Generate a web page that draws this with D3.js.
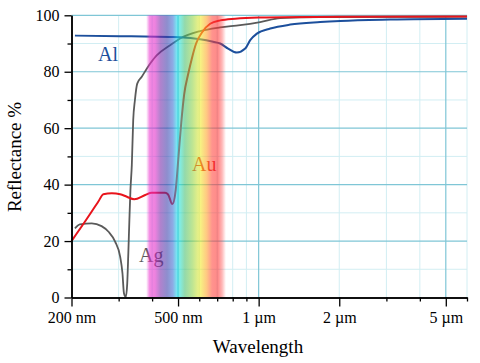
<!DOCTYPE html>
<html>
<head>
<meta charset="utf-8">
<script src="https://cdn.jsdelivr.net/npm/d3@7.9.0/dist/d3.min.js"></script>
<style>
  body { margin: 0; background: #fff; }
  svg { display: block; }
  svg text { font-family: "Liberation Serif", "Times New Roman", serif; }
</style>
</head>
<body>
<svg id="chart" width="480" height="363"></svg>
<script>
// wavelength in nm, reflectance in %
const alWave = [206, 304, 467, 509, 604, 676, 718, 769, 829, 891, 930, 985, 1105, 1312, 1698, 2017, 3102, 6000];
const alRefl = [92.8, 92.6, 92.3, 92.2, 91.5, 90.6, 90.0, 88.2, 86.8, 88.2, 91.2, 93.5, 95.3, 96.7, 97.6, 98.0, 98.5, 98.8];

const auWave = [200, 225, 252, 263, 283, 304, 322, 343, 377, 399, 447, 459, 476, 490, 502, 514, 527, 545, 564, 584, 615, 659, 718, 817, 1000, 2000, 6000];
const auRefl = [20.0, 27.0, 34.0, 36.6, 36.9, 36.6, 35.7, 34.8, 36.3, 37.1, 37.1, 36.5, 33.1, 38.0, 50.0, 62.0, 72.0, 79.0, 85.0, 90.0, 94.0, 97.0, 98.2, 98.8, 99.2, 99.5, 99.6];

const agWave = [206, 215, 238, 259, 275, 291, 304, 310, 314, 319, 323, 326, 329, 332, 336, 340, 345, 352, 366, 382, 416, 467, 509, 604, 718, 853, 1013, 1204, 1698, 6000];
const agRefl = [24.5, 25.9, 26.3, 25.3, 23.3, 19.8, 14.4, 8.6, 1.5, 0.2, 5.0, 15.6, 27.4, 38.0, 47.0, 62.8, 69.9, 75.8, 78.2, 81.1, 85.8, 89.4, 91.8, 94.4, 95.7, 96.5, 97.6, 99.0, 99.4, 99.5];

const xMajor = [200, 500, 1000, 2000, 5000];
const xMinor = [300, 400, 600, 700, 800, 900, 3000, 4000, 6000];
const yMajor = [0, 20, 40, 60, 80, 100];
const yMinor = [10, 30, 50, 70, 90];

const gridDarkX = [500, 1000, 5000];
const gridLightX = [300, 400, 600, 700, 800, 900, 2000, 3000, 4000, 6000];

// visible spectrum band (nm, colour, opacity)
const specWave = [380, 392, 410, 430, 455, 478, 495, 510, 530, 565, 605, 640, 670, 705, 730, 755];
const specColor = ['#e62bcb', '#eb32cd', '#e128c8', '#7828aa', '#3c3caa', '#3c6ed2', '#14d7eb', '#28dcc8', '#46be6e', '#8cd246', '#f0eb28', '#ffa028', '#ff463c', '#ff3232', '#ff3232', '#ff3232'];
const specAlpha = [0, 1, 1, 1, 1, 1, 1, 1, 1, 1, 1, 1, 1, 1, 0.6, 0];

const svg = d3.select('#chart');

const x = d3.scaleLog().domain([200, 6000]).range([71.5, 467]);
const y = d3.scaleLinear().domain([0, 100]).range([297.5, 15.3]);

// grid
const grid = svg.append('g');
grid.selectAll('.gl-x').data(gridLightX).join('line')
  .attr('x1', d => x(d)).attr('x2', d => x(d)).attr('y1', y(0)).attr('y2', y(100))
  .attr('stroke', '#d2eef3').attr('stroke-width', 1);
grid.selectAll('.gl-y').data(yMinor).join('line')
  .attr('x1', x(200)).attr('x2', x(6000)).attr('y1', d => y(d)).attr('y2', d => y(d))
  .attr('stroke', '#d2eef3').attr('stroke-width', 1);
grid.selectAll('.gd-x').data(gridDarkX).join('line')
  .attr('x1', d => x(d)).attr('x2', d => x(d)).attr('y1', y(0)).attr('y2', y(100))
  .attr('stroke', '#7fc6d6').attr('stroke-width', 1.2);
grid.selectAll('.gd-y').data(yMajor.filter(d => d > 0)).join('line')
  .attr('x1', x(200)).attr('x2', x(6000)).attr('y1', d => y(d)).attr('y2', d => y(d))
  .attr('stroke', '#7fc6d6').attr('stroke-width', 1.2);

// curves
const line = d3.line().x(d => x(d[0])).y(d => y(d[1])).curve(d3.curveMonotoneX);
const series = [
  { wave: agWave, refl: agRefl, color: '#5a5a5a', w: 1.8 },
  { wave: alWave, refl: alRefl, color: '#1c4f9c', w: 2 },
  { wave: auWave, refl: auRefl, color: '#e8141c', w: 2 }
];
series.forEach(s => {
  svg.append('path')
    .datum(d3.zip(s.wave, s.refl))
    .attr('d', line)
    .attr('fill', 'none')
    .attr('stroke', s.color)
    .attr('stroke-width', s.w)
    .attr('stroke-linejoin', 'round');
});

// curve labels
svg.append('text').attr('x', 98).attr('y', 61).attr('font-size', 20).attr('fill', '#1c4f9c').text('Al');
svg.append('text').attr('x', 192).attr('y', 171).attr('font-size', 20).attr('fill', '#e0141c').text('Au');
svg.append('text').attr('x', 139).attr('y', 262).attr('font-size', 20).attr('fill', '#5a5a5a').text('Ag');

// spectrum band laid over the curves
const defs = svg.append('defs');
const grad = defs.append('linearGradient')
  .attr('id', 'spectrum')
  .attr('gradientUnits', 'userSpaceOnUse')
  .attr('x1', x(specWave[0])).attr('x2', x(specWave[specWave.length - 1]))
  .attr('y1', 0).attr('y2', 0);
const x0 = x(specWave[0]), x1 = x(specWave[specWave.length - 1]);
specWave.forEach((w, i) => {
  grad.append('stop')
    .attr('offset', (x(w) - x0) / (x1 - x0))
    .attr('stop-color', specColor[i])
    .attr('stop-opacity', specAlpha[i]);
});
svg.append('rect')
  .attr('x', x0).attr('width', x1 - x0)
  .attr('y', y(100)).attr('height', y(0) - y(100))
  .attr('fill', 'url(#spectrum)')
  .attr('opacity', 0.58);

// axes
const fmt = d => d < 1000 ? d + ' nm' : (d / 1000) + ' \u00b5m';
svg.append('g').attr('transform', `translate(0,${y(0)})`)
  .call(d3.axisBottom(x).tickValues(xMajor).tickFormat(fmt).tickSize(9).tickPadding(5).tickSizeOuter(0));
svg.append('g').attr('transform', `translate(0,${y(0)})`)
  .call(d3.axisBottom(x).tickValues(xMinor).tickFormat('').tickSize(4).tickSizeOuter(0));
svg.append('g').attr('transform', `translate(${x(200)},0)`)
  .call(d3.axisLeft(y).tickValues(yMajor).tickSize(7).tickPadding(5).tickSizeOuter(0));
svg.append('g').attr('transform', `translate(${x(200)},0)`)
  .call(d3.axisLeft(y).tickValues(yMinor).tickFormat('').tickSize(4).tickSizeOuter(0));

svg.selectAll('.domain').attr('stroke', '#000').attr('stroke-width', 1.5);
svg.selectAll('.tick line').attr('stroke', '#000').attr('stroke-width', 1.3);
svg.selectAll('.tick text')
  .style('font-family', '"Liberation Serif", "Times New Roman", serif')
  .style('font-size', '16px').attr('fill', '#000');

// axis titles
svg.append('text')
  .attr('x', 258).attr('y', 353)
  .attr('text-anchor', 'middle').attr('font-size', 19)
  .text('Wavelength');
svg.append('text')
  .attr('transform', 'translate(21,157) rotate(-90)')
  .attr('text-anchor', 'middle').attr('font-size', 19)
  .text('Reflectance %');
</script>
</body>
</html>
